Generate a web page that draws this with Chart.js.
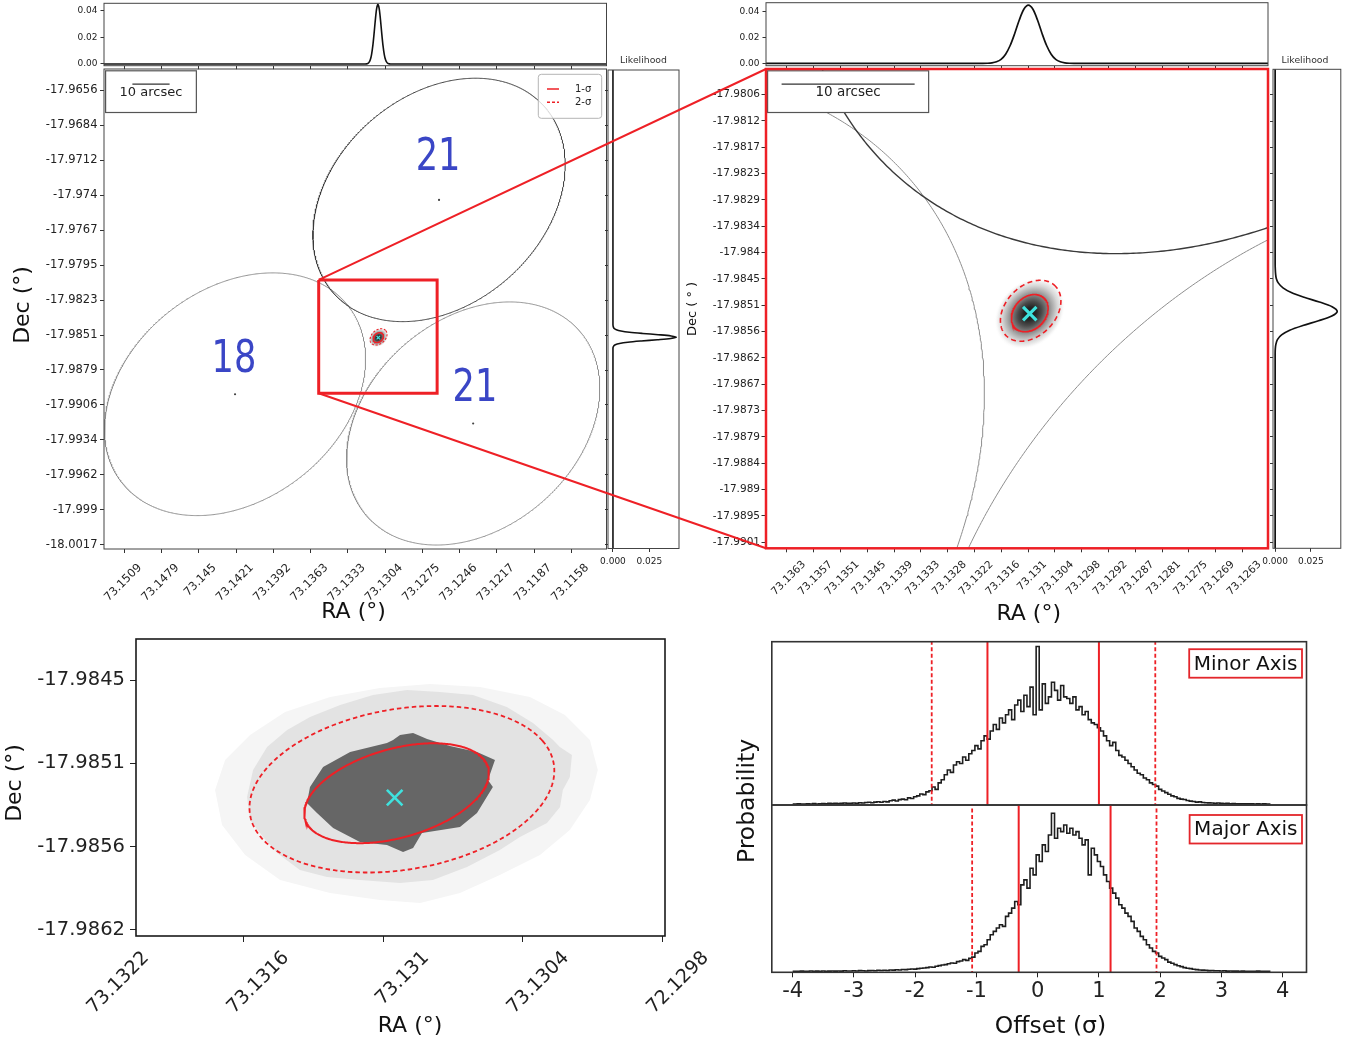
<!DOCTYPE html>
<html>
<head>
<meta charset="utf-8">
<title>Burst localisation</title>
<script src="https://cdn.jsdelivr.net/npm/chart.js@4.4.1/dist/chart.umd.min.js"></script>
<style>
  html, body { margin: 0; padding: 0; background: #ffffff; }
  #fig { position: relative; width: 1355px; height: 1046px; overflow: hidden; background: #ffffff; }
  #fig canvas { position: absolute; left: 0; top: 0; }
</style>
</head>
<body>
<div id="fig"></div>
<script>
// ---------------------------------------------------------------- data
// Beam localisation ellipses: centre (deg), semi-axes (deg), tilt of the major axis (deg, from west toward north)
const beamNames = ['21', '18', '21'];
const beamRA = [73.12620, 73.14222, 73.12352];
const beamDec = [-17.97432, -17.98974, -17.99206];
const beamMajor = [0.011113, 0.011326, 0.011129];
const beamMinor = [0.008240, 0.008343, 0.008248];
const beamAngle = [42.5, 38.9, 42.0];
const beamLabelRA = [73.12628, 73.14230, 73.12338];
const beamLabelDec = [-17.97107, -17.98710, -17.98940];

// Best-fit position and its 1-sigma / 2-sigma contours
const bestRA = 73.13097;
const bestDec = -17.98525;
const confNames = ['1-σ', '2-σ'];
const confRA = [73.13097, 73.13095];
const confDec = [-17.98524, -17.98519];
const confMajor = [0.000448, 0.000754];
const confMinor = [0.000343, 0.000539];
const confAngle = [42.6, 42.7];
// Outer edge of the likelihood shading
const densityMajor = 0.00085;
const densityMinor = 0.00068;
const densityAngle = 42;

// Region shown in the zoomed panel, outlined on the wide panel
const zoomBoxRA = [73.13565, 73.12635];
const zoomBoxDec = [-17.98067, -17.98966];

// Scale bar
const scaleBarArcsec = 10;
const scaleBarLabel = '10 arcsec';

// Marginal likelihood along RA
const raLikeRA = [73.1530, 73.1320, 73.1319, 73.1318, 73.1317, 73.1316, 73.1315, 73.1314, 73.1313, 73.1312, 73.1311,
  73.1310, 73.1309, 73.1308, 73.1307, 73.1306, 73.1305, 73.1304, 73.1303, 73.1302, 73.1301, 73.1300, 73.1120];
const raLike = [0, 0.0000, 0.0001, 0.0004, 0.0012, 0.0031, 0.0071, 0.0138, 0.0231, 0.0335, 0.0418,
  0.0450, 0.0418, 0.0335, 0.0231, 0.0138, 0.0071, 0.0031, 0.0012, 0.0004, 0.0001, 0.0000, 0];

// Marginal likelihood along Dec
const decLikeDec = [-17.9630, -17.9842, -17.9843, -17.9844, -17.9845, -17.9846, -17.9847, -17.9848, -17.9849, -17.9850, -17.9851,
  -17.9852, -17.9853, -17.9854, -17.9855, -17.9856, -17.9857, -17.9858, -17.9859, -17.9860, -17.9861, -17.9862, -18.0030];
const decLike = [0, 0.0000, 0.0001, 0.0003, 0.0008, 0.0023, 0.0055, 0.0113, 0.0203, 0.0310, 0.0399,
  0.0435, 0.0397, 0.0304, 0.0194, 0.0102, 0.0045, 0.0016, 0.0005, 0.0001, 0.0000, 0.0000, 0];

// Close-up of the credible region: best fit, fitted contours and sample-density regions
const fineBestRA = 73.13095;
const fineBestDec = -17.98530;
const fineConfRA = [73.130942, 73.130919];
const fineConfDec = [-17.985270, -17.985243];
const fineConfMajor = [0.000440, 0.000687];
const fineConfMinor = [0.000280, 0.000525];
const fineConfAngle = [34.5, 28.6];
const coreRA = [73.130927, 73.130871, 73.130811, 73.130713, 73.130597, 73.130520, 73.130550, 73.130529, 73.130563, 73.130597,
  73.130670, 73.130833, 73.130871, 73.130914, 73.130983, 73.131099, 73.131214, 73.131283, 73.131326, 73.131313,
  73.131257, 73.131141, 73.130983, 73.130957];
const coreDec = [-17.984874, -17.984860, -17.984901, -17.984949, -17.984990, -17.985044, -17.985180, -17.985228, -17.985316, -17.985404,
  -17.985500, -17.985540, -17.985642, -17.985670, -17.985622, -17.985602, -17.985506, -17.985404, -17.985336, -17.985228,
  -17.985092, -17.984990, -17.984928, -17.984908];
const haloRA = [73.131583, 73.131557, 73.131497, 73.131411, 73.131313, 73.131184, 73.131043, 73.130897, 73.130756, 73.130614,
  73.130469, 73.130357, 73.130271, 73.130242, 73.130190, 73.130199, 73.130229, 73.130241, 73.130297, 73.130413,
  73.130499, 73.130640, 73.130786, 73.130927, 73.131099, 73.131240, 73.131356, 73.131454, 73.131514, 73.131570];
const haloDec = [-17.985296, -17.985112, -17.984956, -17.984840, -17.984752, -17.984670, -17.984602, -17.984568, -17.984582, -17.984602,
  -17.984684, -17.984792, -17.984908, -17.984956, -17.985010, -17.985160, -17.985248, -17.985364, -17.985472, -17.985568,
  -17.985656, -17.985772, -17.985860, -17.985880, -17.985860, -17.985840, -17.985792, -17.985676, -17.985568, -17.985452];
const fringeRA = [73.131720, 73.131677, 73.131570, 73.131420, 73.131227, 73.131013, 73.130799, 73.130584, 73.130370, 73.130220,
  73.130113, 73.130079, 73.130113, 73.130199, 73.130327, 73.130499, 73.130670, 73.130841, 73.131013, 73.131227,
  73.131441, 73.131591, 73.131690];
const fringeDec = [-17.985248, -17.985044, -17.984874, -17.984718, -17.984616, -17.984554, -17.984527, -17.984548, -17.984616, -17.984738,
  -17.984908, -17.985112, -17.985316, -17.985520, -17.985690, -17.985826, -17.985948, -17.986016, -17.985996, -17.985948,
  -17.985860, -17.985690, -17.985486];

// Offset distributions along the minor and major axes (bins of 0.05 sigma starting at -4)
const binStart = -4.0;
const binWidth = 0.05;
const minorHist = [
  0, 0, 0.002, 0, 0, 0.002, 0, 0.003, 0, 0.002,
  0.003, 0.002, 0.004, 0.003, 0.005, 0.003, 0.004, 0.006, 0.004, 0.005,
  0.006, 0.005, 0.008, 0.006, 0.009, 0.011, 0.008, 0.012, 0.014, 0.011,
  0.016, 0.013, 0.020, 0.024, 0.019, 0.027, 0.030, 0.026, 0.038, 0.034,
  0.045, 0.050, 0.062, 0.058, 0.075, 0.082, 0.105, 0.090, 0.130, 0.150,
  0.180, 0.210, 0.195, 0.240, 0.260, 0.250, 0.290, 0.270, 0.310, 0.330,
  0.360, 0.340, 0.390, 0.420, 0.400, 0.450, 0.490, 0.460, 0.530, 0.500,
  0.550, 0.580, 0.520, 0.610, 0.640, 0.570, 0.670, 0.600, 0.720, 0.550,
  0.970, 0.580, 0.740, 0.620, 0.660, 0.750, 0.700, 0.640, 0.730, 0.660,
  0.650, 0.620, 0.660, 0.580, 0.600, 0.550, 0.570, 0.520, 0.500, 0.490,
  0.470, 0.450, 0.420, 0.390, 0.360, 0.380, 0.330, 0.300, 0.290, 0.270,
  0.250, 0.230, 0.210, 0.190, 0.180, 0.160, 0.150, 0.130, 0.120, 0.110,
  0.090, 0.080, 0.070, 0.060, 0.050, 0.045, 0.035, 0.030, 0.028, 0.022,
  0.018, 0.016, 0.012, 0.013, 0.009, 0.008, 0.007, 0.006, 0.005, 0.006,
  0.004, 0.003, 0.004, 0.002, 0.003, 0.002, 0.001, 0.002, 0.001, 0.002,
  0.001, 0, 0.001, 0, 0.001, 0, 0];
const majorHist = [
  0, 0, 0, 0.001, 0, 0, 0.002, 0, 0.001, 0,
  0.002, 0, 0.001, 0.002, 0.001, 0.002, 0.001, 0.003, 0.002, 0.002,
  0.003, 0.002, 0.004, 0.003, 0.002, 0.004, 0.005, 0.003, 0.006, 0.005,
  0.006, 0.005, 0.008, 0.007, 0.009, 0.008, 0.011, 0.010, 0.012, 0.014,
  0.013, 0.016, 0.018, 0.020, 0.022, 0.026, 0.024, 0.030, 0.034, 0.038,
  0.040, 0.045, 0.050, 0.048, 0.058, 0.062, 0.070, 0.066, 0.078, 0.085,
  0.110, 0.120, 0.150, 0.160, 0.190, 0.220, 0.240, 0.260, 0.280, 0.270,
  0.330, 0.350, 0.380, 0.420, 0.400, 0.520, 0.550, 0.500, 0.620, 0.580,
  0.700, 0.660, 0.760, 0.720, 0.820, 0.950, 0.800, 0.860, 0.840, 0.880,
  0.830, 0.860, 0.820, 0.840, 0.800, 0.760, 0.790, 0.580, 0.740, 0.700,
  0.660, 0.630, 0.580, 0.540, 0.500, 0.470, 0.440, 0.400, 0.380, 0.350,
  0.330, 0.300, 0.260, 0.240, 0.210, 0.190, 0.160, 0.140, 0.120, 0.110,
  0.090, 0.080, 0.070, 0.055, 0.048, 0.040, 0.033, 0.028, 0.022, 0.018,
  0.016, 0.012, 0.010, 0.008, 0.007, 0.006, 0.004, 0.005, 0.003, 0.003,
  0.002, 0.003, 0.001, 0.002, 0.001, 0.001, 0, 0.001, 0, 0,
  0, 0, 0.001, 0, 0, 0, 0];
const minorSolid = [-0.82, 1.00];
const minorDashed = [-1.73, 1.92];
const majorSolid = [-0.31, 1.19];
const majorDashed = [-1.07, 1.94];
const histNames = ['Minor Axis', 'Major Axis'];

// Tick labels
const raTickLabelsWide = ['73.1509', '73.1479', '73.145', '73.1421', '73.1392', '73.1363', '73.1333', '73.1304',
  '73.1275', '73.1246', '73.1217', '73.1187', '73.1158'];
const decTickLabelsWide = ['-17.9656', '-17.9684', '-17.9712', '-17.974', '-17.9767', '-17.9795', '-17.9823',
  '-17.9851', '-17.9879', '-17.9906', '-17.9934', '-17.9962', '-17.999', '-18.0017'];
const raTickLabelsZoom = ['73.1363', '73.1357', '73.1351', '73.1345', '73.1339', '73.1333', '73.1328', '73.1322', '73.1316',
  '73.131', '73.1304', '73.1298', '73.1292', '73.1287', '73.1281', '73.1275', '73.1269', '73.1263'];
const decTickLabelsZoom = ['-17.9806', '-17.9812', '-17.9817', '-17.9823', '-17.9829', '-17.9834', '-17.984', '-17.9845',
  '-17.9851', '-17.9856', '-17.9862', '-17.9867', '-17.9873', '-17.9879', '-17.9884', '-17.989', '-17.9895', '-17.9901'];
const raTicksFine = [73.1322, 73.1316, 73.1310, 73.1304, 73.1298];
const raTickLabelsFine = ['73.1322', '73.1316', '73.131', '73.1304', '72.1298'];
const decTickLabelsFine = ['-17.9845', '-17.9851', '-17.9856', '-17.9862'];
const likeTicksTop = [0, 0.02, 0.04];
const likeTickLabelsTop = ['0.00', '0.02', '0.04'];
const likeTicksSide = [0, 0.025];
const likeTickLabelsSide = ['0.000', '0.025'];
const offsetTicks = [-4, -3, -2, -1, 0, 1, 2, 3, 4];

// View windows [min, max]
const wideRA = [73.11305, 73.15251];
const wideDec = [-18.00202, -17.96393];
const zoomRA = [73.12574, 73.13676];
const zoomDec = [-17.99023, -17.98006];
const fineRA = [73.129791, 73.132059];
const fineDec = [-17.986241, -17.984221];
const wideTopLike = [-0.0013, 0.0458];
const wideSideLike = [-0.0034, 0.0453];
const zoomTopLike = [-0.0018, 0.0469];
const zoomSideLike = [-0.0015, 0.0460];
const offsetRange = [-4.341, 4.389];
const probRange = [-0.006, 1.0];

// ---------------------------------------------------------------- helpers
const W = 1355, H = 1046;
const RED = '#ee2026';
const CYAN = '#3fe2de';
const FONT = "'DejaVu Sans', 'Liberation Sans', sans-serif";
Chart.defaults.font.family = FONT;
Chart.defaults.color = '#222';

const fig = document.getElementById('fig');
function layer() {
  const c = document.createElement('canvas');
  c.width = W; c.height = H;
  c.style.width = W + 'px'; c.style.height = H + 'px';
  fig.appendChild(c);
  return c;
}

// outline of an ellipse in RA/Dec; offsets are taken east-west (screen right = decreasing RA) and north
function ellipse(ra, dec, a, b, angDeg, n) {
  const t0 = angDeg * Math.PI / 180, pts = [];
  for (let i = 0; i <= n; i++) {
    const t = 2 * Math.PI * i / n;
    const dx = a * Math.cos(t) * Math.cos(t0) - b * Math.sin(t) * Math.sin(t0);
    const dy = a * Math.cos(t) * Math.sin(t0) + b * Math.sin(t) * Math.cos(t0);
    pts.push({ x: ra - dx, y: dec + dy });
  }
  return pts;
}
function zipXY(xs, ys) { return xs.map((v, i) => ({ x: v, y: ys[i] })); }
function closed(pts) { return pts.concat([pts[0]]); }
// tick positions evenly spread between the first and last labelled value
function evenTicks(labels) {
  const a = parseFloat(labels[0]), b = parseFloat(labels[labels.length - 1]), n = labels.length - 1;
  return labels.map((_, i) => a + (b - a) * i / n);
}

function axis(o) {
  return {
    type: 'linear', position: o.pos, min: o.min, max: o.max, reverse: !!o.reverse,
    display: o.display === undefined ? true : o.display,
    border: { display: false },
    grid: { drawOnChartArea: false, drawTicks: !!o.tick, tickLength: o.tick || 0, tickWidth: 1, tickColor: o.tickColor || '#333' },
    ticks: {
      display: !!o.labels, autoSkip: false, padding: o.pad || 0,
      font: { size: o.size || 10, family: FONT }, color: '#222',
      minRotation: o.rot || 0, maxRotation: o.rot || 0, labelOffset: o.offset || 0,
      callback: (v, i) => (o.labels ? o.labels[i] : '')
    },
    afterBuildTicks: s => { s.ticks = (o.values || []).map(v => ({ value: v })); }
  };
}
// plot area given by its page edges; a visible axis fills the whole margin on its side
function chartOptions(l, t, r, b, x, y) {
  const xOn = x.display !== false, yOn = y.display !== false;
  const clearPad = s => { s.paddingLeft = 0; s.paddingRight = 0; s.paddingTop = 0; s.paddingBottom = 0; };
  x.afterFit = s => { s.height = xOn ? H - b : 0; clearPad(s); };
  y.afterFit = s => { s.width = yOn ? l : 0; clearPad(s); };
  return {
    responsive: false, animation: false, events: [], devicePixelRatio: 1,
    layout: { padding: { left: yOn ? 0 : l, top: t, right: W - r, bottom: xOn ? 0 : H - b }, autoPadding: false },
    scales: { x, y },
    plugins: { legend: { display: false }, tooltip: { enabled: false } }
  };
}

function path(points, color, width, dash, order) {
  return { data: points, showLine: true, borderColor: color, borderWidth: width, borderDash: dash || [],
    pointRadius: 0, pointHoverRadius: 0, fill: false, tension: 0, order: order, clip: 0 };
}
function smooth(points, color, width, order) {
  const d = path(points, color, width, [], order); d.tension = 0.3; return d;
}
function region(points, color, order) {
  return { data: points, showLine: true, borderWidth: 0, borderColor: color, backgroundColor: color,
    pointRadius: 0, pointHoverRadius: 0, fill: 'shape', tension: 0, order: order, clip: 0 };
}
function crossMark(ra, dec, r, w, order) {
  return { data: [{ x: ra, y: dec }], showLine: false, pointStyle: 'crossRot', pointRadius: r, pointHoverRadius: r,
    borderColor: CYAN, pointBorderColor: CYAN, borderWidth: w, pointBorderWidth: w, backgroundColor: CYAN, order: order, clip: false };
}

// ---------------------------------------------------------------- plugins
function framePlugin(color, width) {
  return { id: 'frame', afterDatasetsDraw(chart) {
    const { ctx, chartArea: c } = chart;
    ctx.save(); ctx.strokeStyle = color; ctx.lineWidth = width;
    ctx.strokeRect(c.left, c.top, c.right - c.left, c.bottom - c.top);
    ctx.restore();
  } };
}
function densityPlugin(ra, dec, a, b, angle) {
  return { id: 'density', beforeDatasetsDraw(chart) {
    const { ctx, chartArea: c, scales: { x, y } } = chart;
    const cx = x.getPixelForValue(ra), cy = y.getPixelForValue(dec);
    const kx = Math.abs(x.getPixelForValue(ra + 0.001) - cx) / 0.001;
    const ky = Math.abs(y.getPixelForValue(dec + 0.001) - cy) / 0.001;
    const t = angle * Math.PI / 180;
    ctx.save();
    ctx.beginPath(); ctx.rect(c.left, c.top, c.right - c.left, c.bottom - c.top); ctx.clip();
    ctx.translate(cx, cy);
    ctx.transform(a * Math.cos(t) * kx, -a * Math.sin(t) * ky, -b * Math.sin(t) * kx, -b * Math.cos(t) * ky, 0, 0);
    const g = ctx.createRadialGradient(0, 0, 0, 0, 0, 1);
    [[0, '#131313'], [0.18, '#262626'], [0.34, '#4b4b4b'], [0.5, '#7f7f7f'], [0.64, '#acacac'],
     [0.78, '#d7d7d7'], [0.9, '#f1f1f1'], [1, 'rgba(255,255,255,0)']].forEach(s => g.addColorStop(s[0], s[1]));
    ctx.fillStyle = g;
    ctx.beginPath(); ctx.arc(0, 0, 1, 0, 2 * Math.PI); ctx.fill();
    ctx.restore();
  } };
}
function scaleBarPlugin(size) {
  return { id: 'scaleBar', afterDatasetsDraw(chart) {
    const { ctx, chartArea: c, scales: { x } } = chart;
    const span = scaleBarArcsec / 3600 / Math.cos(bestDec * Math.PI / 180);
    const len = Math.abs(x.getPixelForValue(bestRA + span) - x.getPixelForValue(bestRA));
    ctx.save();
    ctx.font = size + 'px ' + FONT;
    const tw = ctx.measureText(scaleBarLabel).width;
    const bw = Math.max(len, tw) + 28, bh = 41.7;
    const bx = c.left + 1.6, by = c.top + 1.8;
    ctx.fillStyle = '#ffffff'; ctx.fillRect(bx, by, bw, bh);
    ctx.strokeStyle = '#555'; ctx.lineWidth = 1.2; ctx.strokeRect(bx, by, bw, bh);
    const mid = bx + bw / 2;
    ctx.beginPath(); ctx.moveTo(mid - len / 2, by + 13.4); ctx.lineTo(mid + len / 2, by + 13.4);
    ctx.strokeStyle = '#333'; ctx.lineWidth = 1.2; ctx.stroke();
    ctx.fillStyle = '#222'; ctx.textAlign = 'center'; ctx.textBaseline = 'middle';
    ctx.fillText(scaleBarLabel, mid, by + 22);
    ctx.restore();
  } };
}
function sigmaLegendPlugin() {
  return { id: 'sigmaLegend', afterDatasetsDraw(chart) {
    const { ctx, chartArea: c } = chart;
    const w = 63.4, h = 44, x0 = c.right - 4.8 - w, y0 = c.top + 5.3;
    ctx.save();
    ctx.beginPath(); ctx.roundRect(x0, y0, w, h, 3);
    ctx.fillStyle = 'rgba(255,255,255,0.8)'; ctx.fill();
    ctx.strokeStyle = '#b4b4b4'; ctx.lineWidth = 1; ctx.stroke();
    confNames.forEach((name, i) => {
      const yy = y0 + 14.7 + i * 13.3;
      ctx.beginPath(); ctx.setLineDash(i ? [3, 2] : []);
      ctx.strokeStyle = RED; ctx.lineWidth = 1.5;
      ctx.moveTo(x0 + 8.7, yy); ctx.lineTo(x0 + 20.7, yy); ctx.stroke();
      ctx.setLineDash([]);
      ctx.fillStyle = '#222'; ctx.font = '10px ' + FONT; ctx.textAlign = 'left'; ctx.textBaseline = 'middle';
      ctx.fillText(name, x0 + 36.7, yy);
    });
    ctx.restore();
  } };
}
function beamLabelPlugin() {
  return { id: 'beamLabels', afterDatasetsDraw(chart) {
    const { ctx, scales: { x, y } } = chart;
    ctx.save();
    ctx.font = '44px ' + FONT; ctx.fillStyle = '#3a46c6'; ctx.textAlign = 'center'; ctx.textBaseline = 'middle';
    beamNames.forEach((t, i) => {
      ctx.save();
      ctx.translate(x.getPixelForValue(beamLabelRA[i]), y.getPixelForValue(beamLabelDec[i]));
      ctx.scale(0.8, 1);
      ctx.fillText(t, 0, 0);
      ctx.restore();
    });
    ctx.restore();
  } };
}
function textPlugin(items) {
  return { id: 'pageText', afterDraw(chart) {
    const ctx = chart.ctx;
    items.forEach(it => {
      ctx.save();
      ctx.translate(it.x, it.y);
      if (it.rot) ctx.rotate(it.rot * Math.PI / 180);
      ctx.font = it.size + 'px ' + FONT; ctx.fillStyle = it.color || '#111';
      ctx.textAlign = 'center'; ctx.textBaseline = 'middle';
      ctx.fillText(it.text, 0, 0);
      ctx.restore();
    });
  } };
}
function connectorPlugin(src) {
  return { id: 'connectors', afterDraw(chart) {
    const { ctx, chartArea: c } = chart;
    const xs = src.scales.x, ys = src.scales.y;
    const x0 = xs.getPixelForValue(zoomBoxRA[0]);
    const yT = ys.getPixelForValue(zoomBoxDec[0]), yB = ys.getPixelForValue(zoomBoxDec[1]);
    ctx.save(); ctx.strokeStyle = RED; ctx.lineWidth = 2;
    ctx.beginPath();
    ctx.moveTo(x0, yT); ctx.lineTo(c.left, c.top);
    ctx.moveTo(x0, yB); ctx.lineTo(c.left, c.bottom);
    ctx.stroke(); ctx.restore();
  } };
}
function tagPlugin(label, inset) {
  return { id: 'tag', afterDraw(chart) {
    const { ctx, chartArea: c } = chart;
    ctx.save(); ctx.font = '20px ' + FONT;
    const w = ctx.measureText(label).width + 9, h = 28.5;
    const x0 = c.right - 4.5 - w, y0 = c.top + inset;
    ctx.fillStyle = '#fff'; ctx.fillRect(x0, y0, w, h);
    ctx.strokeStyle = '#e3262b'; ctx.lineWidth = 1.8; ctx.strokeRect(x0, y0, w, h);
    ctx.fillStyle = '#111'; ctx.textAlign = 'center'; ctx.textBaseline = 'middle';
    ctx.fillText(label, x0 + w / 2, y0 + h / 2 + 1);
    ctx.restore();
  } };
}

// ---------------------------------------------------------------- shared datasets
function beamPaths(widthDark) {
  return beamRA.map((ra, i) => path(ellipse(ra, beamDec[i], beamMajor[i], beamMinor[i], beamAngle[i], 900),
    i === 0 ? '#3a3a3a' : '#8e8e8e', i === 0 ? widthDark : 1, [], 20 + i));
}
function confPaths(wSolid, wDash, dash) {
  return [
    path(ellipse(confRA[1], confDec[1], confMajor[1], confMinor[1], confAngle[1], 240), RED, wDash, dash, 6),
    path(ellipse(confRA[0], confDec[0], confMajor[0], confMinor[0], confAngle[0], 240), RED, wSolid, [], 5)
  ];
}
const raLikePts = zipXY(raLikeRA, raLike);
const decLikePts = decLikeDec.map((d, i) => ({ x: decLike[i], y: d }));

// ---------------------------------------------------------------- wide field (top left)
new Chart(layer(), {
  type: 'scatter',
  data: { datasets: [smooth(raLikePts, '#111', 1.6, 1)] },
  options: chartOptions(104, 3.3, 606.5, 65.7,
    axis({ pos: 'bottom', min: wideRA[0], max: wideRA[1], reverse: true, values: evenTicks(raTickLabelsWide), tick: 3.5 }),
    axis({ pos: 'left', min: wideTopLike[0], max: wideTopLike[1], values: likeTicksTop, labels: likeTickLabelsTop, tick: 3.5, pad: 3, size: 9 })),
  plugins: [framePlugin('#444', 1)]
});

const wideMain = new Chart(layer(), {
  type: 'scatter',
  data: { datasets: [
    ...beamPaths(1),
    { data: zipXY(beamRA, beamDec), pointRadius: 1.1, pointHoverRadius: 1.1, backgroundColor: '#444', borderWidth: 0, order: 19 },
    ...confPaths(1.3, 1.1, [2.2, 1.6]),
    crossMark(bestRA, bestDec, 2.4, 1.3, 3),
    path(zipXY([zoomBoxRA[0], zoomBoxRA[1], zoomBoxRA[1], zoomBoxRA[0], zoomBoxRA[0]],
               [zoomBoxDec[0], zoomBoxDec[0], zoomBoxDec[1], zoomBoxDec[1], zoomBoxDec[0]]), RED, 3, [], 2)
  ] },
  options: chartOptions(104, 69, 606.5, 549,
    axis({ pos: 'bottom', min: wideRA[0], max: wideRA[1], reverse: true, values: evenTicks(raTickLabelsWide),
           labels: raTickLabelsWide, tick: 4, pad: 8, size: 11.5, rot: 45, offset: 15.5 }),
    axis({ pos: 'left', min: wideDec[0], max: wideDec[1], values: evenTicks(decTickLabelsWide),
           labels: decTickLabelsWide, tick: 4, pad: 2.5, size: 11.5 })),
  plugins: [densityPlugin(bestRA, bestDec, densityMajor, densityMinor, densityAngle), beamLabelPlugin(),
    scaleBarPlugin(13), sigmaLegendPlugin(), framePlugin('#444', 1),
    textPlugin([{ text: 'RA (°)', x: 353.5, y: 612, size: 22 }, { text: 'Dec (°)', x: 23, y: 305, size: 22, rot: -90 }])]
});

new Chart(layer(), {
  type: 'scatter',
  data: { datasets: [smooth(decLikePts, '#111', 1.6, 1)] },
  options: chartOptions(608, 70, 679, 548.5,
    axis({ pos: 'bottom', min: wideSideLike[0], max: wideSideLike[1], values: likeTicksSide, labels: likeTickLabelsSide, tick: 3.5, pad: 4, size: 9 }),
    axis({ pos: 'left', min: wideDec[0], max: wideDec[1], values: evenTicks(decTickLabelsWide), tick: 3 })),
  plugins: [framePlugin('#444', 1), textPlugin([{ text: 'Likelihood', x: 643.5, y: 61, size: 9.3, color: '#333' }])]
});

// ---------------------------------------------------------------- zoomed field (top right)
new Chart(layer(), {
  type: 'scatter',
  data: { datasets: [smooth(raLikePts, '#111', 1.7, 1)] },
  options: chartOptions(766, 2.7, 1268, 65.7,
    axis({ pos: 'bottom', min: zoomRA[0], max: zoomRA[1], reverse: true, values: evenTicks(raTickLabelsZoom), tick: 3.5 }),
    axis({ pos: 'left', min: zoomTopLike[0], max: zoomTopLike[1], values: likeTicksTop, labels: likeTickLabelsTop, tick: 3.5, pad: 3, size: 9 })),
  plugins: [framePlugin('#444', 1)]
});

new Chart(layer(), {
  type: 'scatter',
  data: { datasets: [
    ...beamPaths(1.4),
    ...confPaths(1.6, 1.6, [5, 3.5]),
    crossMark(bestRA, bestDec, 9.5, 3.2, 3)
  ] },
  options: chartOptions(766, 69, 1268, 548.3,
    axis({ pos: 'bottom', min: zoomRA[0], max: zoomRA[1], reverse: true, values: evenTicks(raTickLabelsZoom),
           labels: raTickLabelsZoom, tick: 4, pad: 6, size: 10.5, rot: 45, offset: 17 }),
    axis({ pos: 'left', min: zoomDec[0], max: zoomDec[1], values: evenTicks(decTickLabelsZoom),
           labels: decTickLabelsZoom, tick: 4.5, pad: 1.5, size: 10.5 })),
  plugins: [densityPlugin(bestRA, bestDec, densityMajor, densityMinor, densityAngle),
    scaleBarPlugin(13.5), framePlugin(RED, 2.5), connectorPlugin(wideMain),
    textPlugin([{ text: 'RA (°)', x: 1028.7, y: 614, size: 22 }, { text: 'Dec ( ° )', x: 693, y: 309, size: 13, rot: -90 }])]
});

new Chart(layer(), {
  type: 'scatter',
  data: { datasets: [smooth(decLikePts, '#111', 1.7, 1)] },
  options: chartOptions(1273, 69.3, 1340.8, 548.3,
    axis({ pos: 'bottom', min: zoomSideLike[0], max: zoomSideLike[1], values: likeTicksSide, labels: likeTickLabelsSide, tick: 3.5, pad: 4, size: 9 }),
    axis({ pos: 'left', min: zoomDec[0], max: zoomDec[1], values: evenTicks(decTickLabelsZoom), tick: 3 })),
  plugins: [framePlugin('#444', 1), textPlugin([{ text: 'Likelihood', x: 1305, y: 61, size: 9.3, color: '#333' }])]
});

// ---------------------------------------------------------------- credible region close-up (bottom left)
new Chart(layer(), {
  type: 'scatter',
  data: { datasets: [
    region(closed(zipXY(fringeRA, fringeDec)), '#f5f5f5', 12),
    region(closed(zipXY(haloRA, haloDec)), '#e3e3e3', 11),
    region(closed(zipXY(coreRA, coreDec)), '#666666', 10),
    path(ellipse(fineConfRA[1], fineConfDec[1], fineConfMajor[1], fineConfMinor[1], fineConfAngle[1], 360), RED, 1.8, [4.5, 3], 6),
    path(ellipse(fineConfRA[0], fineConfDec[0], fineConfMajor[0], fineConfMinor[0], fineConfAngle[0], 360), RED, 2, [], 5),
    crossMark(fineBestRA, fineBestDec, 11, 2.6, 2)
  ] },
  options: chartOptions(136, 639, 665, 936,
    axis({ pos: 'bottom', min: fineRA[0], max: fineRA[1], reverse: true, values: raTicksFine, labels: raTickLabelsFine,
           tick: 6, pad: 5, size: 19, rot: 45, offset: 43,
           tickColor: c => (c.tick && (c.tick.value > fineRA[1] || c.tick.value < fineRA[0])) ? 'rgba(0,0,0,0)' : '#222' }),
    axis({ pos: 'left', min: fineDec[0], max: fineDec[1], values: evenTicks(decTickLabelsFine), labels: decTickLabelsFine,
           tick: 6, pad: 5, size: 19.5, tickColor: '#222' })),
  plugins: [framePlugin('#1a1a1a', 1.6),
    textPlugin([{ text: 'RA (°)', x: 410, y: 1026, size: 22 }, { text: 'Dec (°)', x: 15.5, y: 783, size: 22, rot: -90 }])]
});

// ---------------------------------------------------------------- offset distributions (bottom right)
function histDatasets(hist, solid, dashed) {
  const pts = hist.map((v, i) => ({ x: binStart + i * binWidth, y: v }));
  const h = path(pts, '#1e1e1e', 1.6, [], 5); h.stepped = 'middle';
  const lines = [];
  solid.forEach(v => lines.push(path([{ x: v, y: -0.1 }, { x: v, y: 1.2 }], RED, 2, [], 2)));
  dashed.forEach(v => lines.push(path([{ x: v, y: -0.1 }, { x: v, y: 1.2 }], RED, 1.8, [4, 2.5], 2)));
  return [h, ...lines];
}
new Chart(layer(), {
  type: 'scatter',
  data: { datasets: histDatasets(minorHist, minorSolid, minorDashed) },
  options: chartOptions(771.8, 641.7, 1306.5, 805,
    axis({ pos: 'bottom', min: offsetRange[0], max: offsetRange[1], display: false }),
    axis({ pos: 'left', min: probRange[0], max: probRange[1], display: false })),
  plugins: [framePlugin('#333', 1.6), tagPlugin(histNames[0], 7.5)]
});
new Chart(layer(), {
  type: 'scatter',
  data: { datasets: histDatasets(majorHist, majorSolid, majorDashed) },
  options: chartOptions(771.8, 805, 1306.5, 972.3,
    axis({ pos: 'bottom', min: offsetRange[0], max: offsetRange[1], values: offsetTicks,
           labels: offsetTicks.map(String), tick: 5, pad: 2, size: 21, tickColor: '#222' }),
    axis({ pos: 'left', min: probRange[0], max: probRange[1], display: false })),
  plugins: [framePlugin('#333', 1.6), tagPlugin(histNames[1], 10),
    textPlugin([{ text: 'Offset (σ)', x: 1050.5, y: 1027, size: 23.5 }, { text: 'Probability', x: 748, y: 801, size: 23.5, rot: -90 }])]
});
</script>
</body>
</html>
